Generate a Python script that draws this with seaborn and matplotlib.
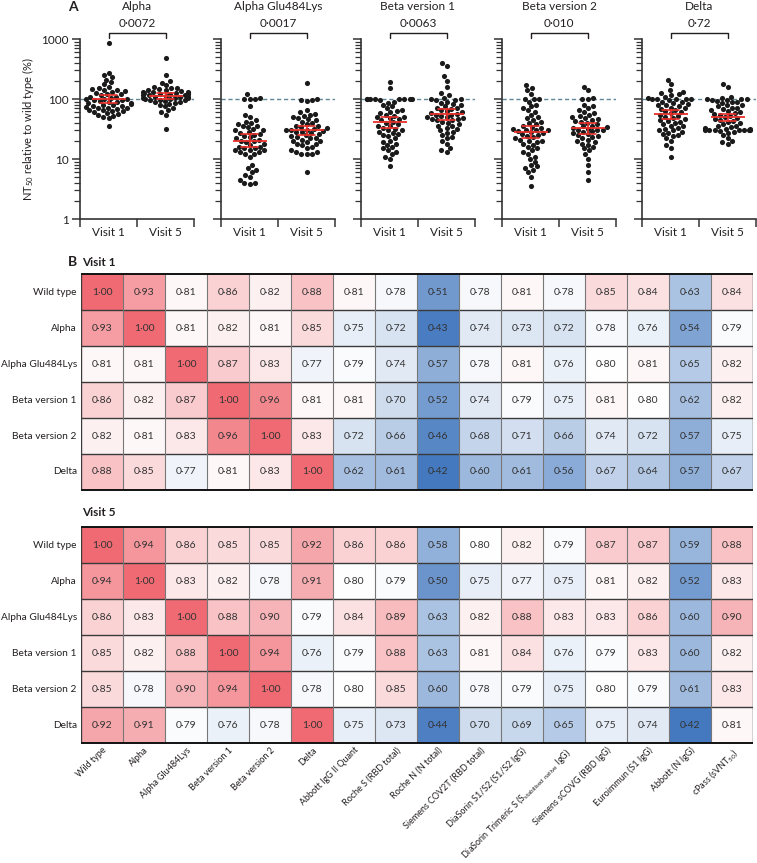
import numpy as np
import pandas as pd
import seaborn as sns
import matplotlib.pyplot as plt
from matplotlib.colors import LinearSegmentedColormap, TwoSlopeNorm
from matplotlib.ticker import LogLocator, NullFormatter, FixedLocator, FixedFormatter

# ---- panel A data: NT50 relative to wild type (%) ----
variants = ["Alpha", "Alpha Glu484Lys", "Beta version 1", "Beta version 2", "Delta"]
p_values = ["0·0072", "0·0017", "0·0063", "0·010", "0·72"]
visits = ["Visit 1", "Visit 5"]

alpha_v1 = [850, 270, 250, 230, 210, 190, 175, 160, 150, 145, 140, 140, 135, 130, 125, 120, 120,
            115, 110, 110, 105, 100, 100, 100, 98, 95, 92, 90, 88, 85, 85, 82, 80, 78, 76, 75,
            74, 72, 70, 70, 68, 66, 65, 63, 62, 60, 58, 56, 55, 52, 50, 48, 35]
alpha_v5 = [480, 250, 200, 185, 170, 160, 155, 150, 145, 140, 140, 135, 132, 130, 130, 128, 126,
            125, 122, 120, 120, 118, 118, 115, 112, 110, 110, 108, 105, 105, 102, 100, 100, 98,
            96, 95, 92, 90, 88, 85, 82, 80, 75, 70, 65, 60, 55, 32]
glu_v1 = [120, 105, 100, 100, 100, 75, 55, 50, 45, 42, 40, 38, 36, 35, 34, 32, 30, 30, 28, 27,
          26, 25, 24, 23, 22, 21, 20, 20, 19, 18, 17, 16, 16, 15, 15, 14, 14, 14, 13, 13, 12,
          12, 11, 8, 7, 6.5, 6, 5.5, 5, 4.5, 4, 4, 3.8]
glu_v5 = [185, 100, 98, 95, 92, 65, 60, 57, 55, 52, 50, 48, 46, 45, 42, 40, 38, 36, 35, 34, 33,
          32, 31, 30, 30, 29, 28, 28, 27, 26, 25, 24, 23, 22, 22, 21, 20, 20, 19, 18, 18, 17,
          16, 15, 14, 13, 13, 12, 12, 12, 6]
beta1_v1 = [190, 150, 100, 100, 100, 100, 100, 100, 100, 100, 95, 90, 85, 80, 75, 70, 65, 62,
            60, 58, 55, 52, 50, 50, 48, 46, 45, 42, 40, 38, 36, 35, 33, 32, 30, 30, 28, 27, 26,
            25, 24, 22, 20, 19, 18, 17, 16, 15, 14, 13, 12, 11, 10, 7.5]
beta1_v5 = [400, 360, 240, 200, 160, 125, 115, 105, 100, 100, 98, 95, 90, 85, 82, 80, 75, 72,
            70, 68, 65, 62, 60, 58, 56, 55, 54, 52, 50, 50, 48, 47, 46, 45, 44, 42, 40, 38, 36,
            35, 33, 32, 30, 28, 27, 25, 23, 22, 20, 18, 15, 14, 13]
beta2_v1 = [170, 155, 140, 120, 100, 100, 100, 90, 80, 75, 70, 65, 60, 55, 50, 48, 45, 42, 40,
            38, 36, 34, 33, 32, 31, 30, 30, 29, 28, 27, 26, 25, 24, 23, 22, 21, 20, 20, 19, 18,
            17, 16, 15, 14, 13, 12, 11, 10, 9, 8, 7.5, 7, 6.5, 6, 5, 3.5]
beta2_v5 = [160, 140, 105, 100, 100, 80, 75, 70, 65, 60, 58, 55, 52, 50, 48, 46, 45, 43, 42, 40,
            38, 36, 35, 34, 33, 32, 31, 30, 30, 29, 28, 27, 26, 25, 24, 23, 22, 21, 20, 19, 18,
            17, 16, 15, 14, 12, 10, 8, 6, 4.5]
delta_v1 = [210, 175, 140, 130, 125, 120, 115, 110, 105, 100, 100, 100, 100, 100, 95, 90, 88, 85,
            82, 80, 78, 75, 72, 70, 68, 65, 62, 60, 58, 55, 52, 50, 48, 46, 45, 43, 42, 40, 38,
            36, 35, 33, 32, 30, 30, 28, 27, 26, 25, 24, 22, 20, 17, 15, 11]
delta_v5 = [175, 160, 110, 105, 100, 100, 100, 98, 95, 92, 90, 88, 85, 80, 78, 75, 72, 70, 68,
            65, 62, 60, 58, 56, 55, 52, 50, 48, 46, 45, 43, 42, 40, 38, 36, 35, 34, 33, 32, 32,
            32, 31, 31, 31, 30, 30, 30, 30, 29, 28, 27, 25, 22, 20, 19, 18]

series = {
    "Alpha": (alpha_v1, alpha_v5),
    "Alpha Glu484Lys": (glu_v1, glu_v5),
    "Beta version 1": (beta1_v1, beta1_v5),
    "Beta version 2": (beta2_v1, beta2_v5),
    "Delta": (delta_v1, delta_v5),
}

# ---- panel B data: correlation matrices ----
row_labels = ["Wild type", "Alpha", "Alpha Glu484Lys", "Beta version 1", "Beta version 2", "Delta"]
col_labels = ["Wild type", "Alpha", "Alpha Glu484Lys", "Beta version 1", "Beta version 2", "Delta",
              "Abbott IgG II Quant", "Roche S (RBD total)", "Roche N (N total)",
              "Siemens COV2T (RBD total)", "DiaSorin S1/S2 (S1/S2 IgG)",
              r"DiaSorin Trimeric S (S$_{stabilised\ native}$ IgG)",
              "Siemens sCOVG (RBD IgG)",
              "Euroimmun (S1 IgG)", "Abbott (N IgG)", r"cPass (sVNT$_{50}$)"]

visit1_corr = [
    [1.00, 0.93, 0.81, 0.86, 0.82, 0.88, 0.81, 0.78, 0.51, 0.78, 0.81, 0.78, 0.85, 0.84, 0.63, 0.84],
    [0.93, 1.00, 0.81, 0.82, 0.81, 0.85, 0.75, 0.72, 0.43, 0.74, 0.73, 0.72, 0.78, 0.76, 0.54, 0.79],
    [0.81, 0.81, 1.00, 0.87, 0.83, 0.77, 0.79, 0.74, 0.57, 0.78, 0.81, 0.76, 0.80, 0.81, 0.65, 0.82],
    [0.86, 0.82, 0.87, 1.00, 0.96, 0.81, 0.81, 0.70, 0.52, 0.74, 0.79, 0.75, 0.81, 0.80, 0.62, 0.82],
    [0.82, 0.81, 0.83, 0.96, 1.00, 0.83, 0.72, 0.66, 0.46, 0.68, 0.71, 0.66, 0.74, 0.72, 0.57, 0.75],
    [0.88, 0.85, 0.77, 0.81, 0.83, 1.00, 0.62, 0.61, 0.42, 0.60, 0.61, 0.56, 0.67, 0.64, 0.57, 0.67],
]
visit5_corr = [
    [1.00, 0.94, 0.86, 0.85, 0.85, 0.92, 0.86, 0.86, 0.58, 0.80, 0.82, 0.79, 0.87, 0.87, 0.59, 0.88],
    [0.94, 1.00, 0.83, 0.82, 0.78, 0.91, 0.80, 0.79, 0.50, 0.75, 0.77, 0.75, 0.81, 0.82, 0.52, 0.83],
    [0.86, 0.83, 1.00, 0.88, 0.90, 0.79, 0.84, 0.89, 0.63, 0.82, 0.88, 0.83, 0.83, 0.86, 0.60, 0.90],
    [0.85, 0.82, 0.88, 1.00, 0.94, 0.76, 0.79, 0.88, 0.63, 0.81, 0.84, 0.76, 0.79, 0.83, 0.60, 0.82],
    [0.85, 0.78, 0.90, 0.94, 1.00, 0.78, 0.80, 0.85, 0.60, 0.78, 0.79, 0.75, 0.80, 0.79, 0.61, 0.83],
    [0.92, 0.91, 0.79, 0.76, 0.78, 1.00, 0.75, 0.73, 0.44, 0.70, 0.69, 0.65, 0.75, 0.74, 0.42, 0.81],
]

sns.set_style("ticks")
plt.rcParams["font.family"] = ["Lato", "DejaVu Sans"]
plt.rcParams["mathtext.fontset"] = "custom"
plt.rcParams["mathtext.rm"] = "Lato"
plt.rcParams["mathtext.it"] = "Lato:italic"
plt.rcParams["mathtext.default"] = "regular"
TXT = "#231f20"

W, H = 757, 863
fig = plt.figure(figsize=(W / 100, H / 100), dpi=100)


def px_axes(left, top, right, bottom):
    return fig.add_axes([left / W, 1 - bottom / H, (right - left) / W, (bottom - top) / H])


# ---------------- panel A ----------------
lefts = [80, 221, 361, 502, 642]
for i, var in enumerate(variants):
    v1, v5 = series[var]
    df = pd.DataFrame({
        "visit": ["Visit 1"] * len(v1) + ["Visit 5"] * len(v5),
        "nt50": v1 + v5,
    })
    ax = px_axes(lefts[i], 39, lefts[i] + 114, 219)
    ax.axhline(100, color="#5f8795", ls=(0, (3, 2)), lw=1, zorder=1)
    sns.swarmplot(data=df, x="visit", y="nt50", order=visits, ax=ax, color="#1a1a1a",
                  size=3.7, log_scale=True, zorder=3, warn_thresh=1)
    sns.pointplot(data=df, x="visit", y="nt50", order=visits, ax=ax, color="#e8302a",
                  estimator="mean", errorbar=("se", 1.96), capsize=0.3, marker="_",
                  markersize=24, markeredgewidth=1.3, linestyle="none",
                  err_kws={"linewidth": 1.2}, log_scale=True, zorder=5)
    for c in ax.collections:
        c.set_zorder(3)
    ax.set_ylim(1, 1000)
    ax.set_xlim(-0.5, 1.5)
    ax.set_xlabel("")
    ax.set_ylabel("")
    sns.despine(ax=ax)
    for s in ["left", "bottom"]:
        ax.spines[s].set_linewidth(1.2)
        ax.spines[s].set_color("#333333")
    ax.yaxis.set_major_locator(FixedLocator([1, 10, 100, 1000]))
    ax.yaxis.set_minor_locator(LogLocator(base=10, subs=np.arange(2, 10)))
    ax.yaxis.set_minor_formatter(NullFormatter())
    if i == 0:
        ax.yaxis.set_major_formatter(FixedFormatter(["1", "10", "100", "1000"]))
        ax.set_ylabel("NT$_{50}$ relative to wild type (%)", fontsize=8, color=TXT, labelpad=4)
    else:
        ax.yaxis.set_major_formatter(NullFormatter())
    ax.tick_params(axis="y", which="major", length=6, width=1.1, color="#333333",
                   labelsize=8.5, labelcolor=TXT, pad=2)
    ax.tick_params(axis="y", which="minor", length=4, width=0.9, color="#333333")
    ax.set_xticks([0, 1])
    ax.set_xticklabels(visits)
    ax.set_xticks([-0.5, 0.5, 1.5], minor=True)
    ax.tick_params(axis="x", which="major", length=0, labelsize=8.5, labelcolor=TXT, pad=6)
    ax.tick_params(axis="x", which="minor", length=6, width=1.1, color="#333333")
    # bracket with p value
    tr = ax.get_xaxis_transform()
    ax.plot([0, 0, 1, 1], [1.005, 1.035, 1.035, 1.005], transform=tr, color=TXT, lw=1,
            clip_on=False)
    ax.text(0.5, 1.085, p_values[i], transform=tr, ha="center", va="center", fontsize=8.5,
            color=TXT)
    ax.text(0.5, 1.18, var, transform=tr, ha="center", va="center", fontsize=8.5, color=TXT)

fig.text(68 / W, 1 - 7 / H, "A", fontsize=10, fontweight="bold", color=TXT, va="center")

# ---------------- panel B ----------------
cmap = LinearSegmentedColormap.from_list("bwr_soft", ["#4579bf", "#ffffff", "#ef6a72"])
norm = TwoSlopeNorm(vmin=0.42, vcenter=0.80, vmax=1.0)


def draw_heat(ax, values, show_x):
    mat = pd.DataFrame(values, index=row_labels, columns=col_labels)
    annot = mat.map(lambda v: f"{v:.2f}".replace(".", "·"))
    sns.heatmap(mat, ax=ax, cmap=cmap, norm=norm, annot=annot, fmt="", cbar=False,
                linewidths=0, annot_kws={"fontsize": 7.5, "color": "#333333"})
    nr, nc = mat.shape
    ax.hlines(np.arange(1, nr), 0, nc, color="#3a3a3a", lw=1.0)
    ax.vlines(np.arange(1, nc), 0, nr, color="#777777", lw=0.8)
    ax.vlines([0, nc], 0, nr, color="#3a3a3a", lw=1.0)
    ax.hlines([0, nr], 0, nc, color="#111111", lw=1.4, clip_on=False)
    ax.tick_params(axis="y", length=0, labelsize=7.3, labelcolor=TXT, pad=3)
    ax.tick_params(axis="x", length=0, labelcolor=TXT, pad=2)
    ax.set_yticklabels(row_labels, rotation=0)
    if show_x:
        ax.set_xticklabels(col_labels, rotation=45, ha="right", rotation_mode="anchor",
                           fontsize=6.5)
    else:
        ax.set_xticklabels([])
    ax.set_xlabel("")
    ax.set_ylabel("")


ax1 = px_axes(81, 274, 753, 490)
draw_heat(ax1, visit1_corr, False)
ax2 = px_axes(81, 527, 753, 743)
draw_heat(ax2, visit5_corr, True)

fig.text(68 / W, 1 - 262 / H, "B", fontsize=10, fontweight="bold", color=TXT, va="center")
fig.text(82 / W, 1 - 262 / H, "Visit 1", fontsize=8.5, fontweight="bold", color=TXT, va="center")
fig.text(82 / W, 1 - 512 / H, "Visit 5", fontsize=8.5, fontweight="bold", color=TXT, va="center")

fig.savefig("out.png", dpi=100)
